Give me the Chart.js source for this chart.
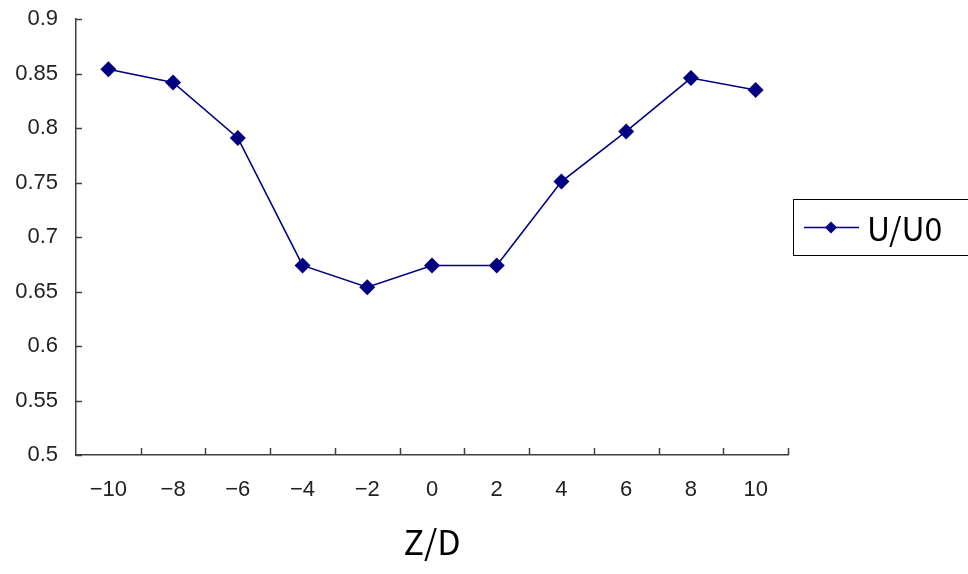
<!DOCTYPE html>
<html>
<head>
<meta charset="utf-8">
<script src="https://cdn.jsdelivr.net/npm/chart.js@4.4.1/dist/chart.umd.min.js"></script>
<style>
  html, body { margin: 0; padding: 0; background: #fff; overflow: hidden; }
  #wrap { width: 968px; height: 574px; overflow: hidden; }
  #inner { width: 968px; height: 586px; margin-top: -12px; }
</style>
</head>
<body>
<div id="wrap"><div id="inner"><canvas id="chart"></canvas></div></div>
<script>
// data
const zdLabels = ["\u221210", "\u22128", "\u22126", "\u22124", "\u22122", "0", "2", "4", "6", "8", "10"];
const uValues = [0.854, 0.842, 0.791, 0.674, 0.654, 0.674, 0.674, 0.751, 0.797, 0.846, 0.835];
const seriesName = "U/U0";
const yMin = 0.5, yMax = 0.9, yStep = 0.05;

const navy = "#000080";
const axisColor = "#404040";
const fontFamily = "'Liberation Sans', Arial, sans-serif";
const legendFont = "'Noto Sans CJK KR', 'Liberation Sans', sans-serif";

// ticks drawn inward like the original
const innerTicks = {
  id: "innerTicks",
  afterDraw(chart) {
    const ctx = chart.ctx;
    const x = chart.scales.x, y = chart.scales.y;
    const area = chart.chartArea;
    ctx.save();
    ctx.strokeStyle = axisColor;
    ctx.lineWidth = 1.5;
    ctx.beginPath();
    y.ticks.forEach((t, i) => {
      const py = Math.round(y.getPixelForTick(i)) + 0.5;
      ctx.moveTo(area.left, py);
      ctx.lineTo(area.left + 6, py);
    });
    for (let i = 1; i <= zdLabels.length; i++) {
      const px = Math.round(x.getPixelForValue(i - 0.5)) + 0.5;
      ctx.moveTo(px, area.bottom);
      ctx.lineTo(px, area.bottom - 7);
    }
    ctx.stroke();
    ctx.restore();
  }
};

// framed legend box with line + diamond, like Excel (canvas is shifted up 12px)
const boxLegend = {
  id: "boxLegend",
  afterDraw(chart) {
    const ctx = chart.ctx;
    const ds = chart.data.datasets[0];
    const bx = 793.5, by = 211.5, bw = 180, bh = 56;
    ctx.save();
    ctx.strokeStyle = "#000";
    ctx.lineWidth = 1;
    ctx.strokeRect(bx, by, bw, bh);
    const cy = by + bh / 2;
    ctx.strokeStyle = ds.borderColor;
    ctx.lineWidth = 1.5;
    ctx.beginPath();
    ctx.moveTo(804, cy);
    ctx.lineTo(859, cy);
    ctx.stroke();
    ctx.fillStyle = ds.pointBackgroundColor;
    ctx.beginPath();
    ctx.moveTo(831, cy - 6);
    ctx.lineTo(837, cy);
    ctx.lineTo(831, cy + 6);
    ctx.lineTo(825, cy);
    ctx.closePath();
    ctx.fill();
    ctx.fillStyle = "#000";
    ctx.font = "32px " + legendFont;
    ctx.textBaseline = "middle";
    ctx.fillText(ds.label, 867, cy + 1);
    ctx.restore();
  }
};

new Chart(document.getElementById("chart"), {
  type: "line",
  data: {
    labels: zdLabels,
    datasets: [{
      label: seriesName,
      data: uValues,
      borderColor: navy,
      borderWidth: 1.6,
      pointStyle: "rectRot",
      pointRadius: 8,
      pointHoverRadius: 8,
      pointBackgroundColor: navy,
      pointBorderColor: navy,
      pointBorderWidth: 0,
      tension: 0
    }]
  },
  options: {
    responsive: true,
    maintainAspectRatio: false,
    animation: false,
    layout: { padding: { top: 0, right: 180, left: 0, bottom: 0 } },
    plugins: {
      legend: { display: false },
      tooltip: { enabled: false }
    },
    scales: {
      x: {
        type: "category",
        offset: true,
        grid: { display: false, drawTicks: false },
        border: { display: true, color: axisColor, width: 1.5 },
        ticks: {
          color: "#222",
          font: { family: fontFamily, size: 22 },
          padding: 22,
          maxRotation: 0
        },
        title: {
          display: true,
          text: "Z/D",
          color: "#000",
          font: { family: legendFont, size: 34 },
          padding: { top: 0, bottom: 12 }
        },
        afterFit(scale) { scale.height = 119; }
      },
      y: {
        min: yMin,
        max: yMax,
        grid: { display: false, drawTicks: false },
        border: { display: true, color: axisColor, width: 1.5 },
        ticks: {
          stepSize: yStep,
          color: "#222",
          font: { family: fontFamily, size: 22 },
          padding: 18,
          callback: v => String(Math.round(v * 100) / 100)
        },
        afterFit(scale) { scale.width = 76; }
      }
    }
  },
  plugins: [innerTicks, boxLegend]
});
</script>
</body>
</html>
